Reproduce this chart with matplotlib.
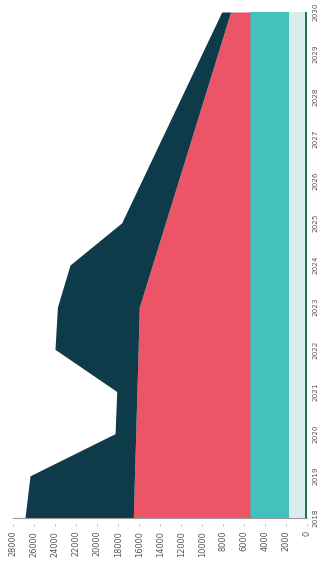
import numpy as np
import matplotlib
matplotlib.use("Agg")
import matplotlib.pyplot as plt
import matplotlib.transforms as mtransforms

years = np.arange(2018, 2031)
year_labels = [str(y) for y in years]

# stacked layers, innermost first
base_line = [180] * 13
pale = [1570] * 13
teal = [3710] * 13
pink = [11110, 11000, 10880, 10770, 10650, 10540, 9300, 8050, 6810, 5570, 4330, 3080, 1840]
navy = [10320, 9950, 1970, 1920, 7920, 7800, 7840, 4170, 3500, 2840, 2170, 1520, 850]

layers = [base_line, pale, teal, pink, navy]
colors = ["#1d6e5e", "#d9eeeb", "#41c2bd", "#ec5567", "#0d3b49"]

value_ticks = list(range(0, 28001, 2000))

fig = plt.figure(figsize=(3.25, 5.70), dpi=100)
ax = fig.add_axes([13.3 / 325, 1 - 518 / 570, (307.3 - 13.3) / 325, (518 - 12) / 570])

lower = np.zeros(len(years))
for vals, col in zip(layers, colors):
    upper = lower + np.asarray(vals, dtype=float)
    ax.fill_betweenx(years, lower, upper, color=col, linewidth=0)
    lower = upper

ax.set_xlim(28000, 0)
ax.set_ylim(2018, 2030)

for side in ["top", "right", "left"]:
    ax.spines[side].set_visible(False)
ax.spines["bottom"].set_color("#9a9a9a")
ax.spines["bottom"].set_linewidth(0.8)

# value axis: small detached tick dots, rotated labels
ax.set_xticks(value_ticks)
ax.set_xticklabels([str(v) for v in value_ticks], rotation=90, fontsize=5.9, color="#555555")
ax.tick_params(axis="x", length=0, pad=9.2)
tick_tr = mtransforms.blended_transform_factory(ax.transData, ax.transAxes)
ax.plot(value_ticks, [-0.014] * len(value_ticks), transform=tick_tr, linestyle="none",
        marker="|", markersize=2, markeredgewidth=0.6, color="#aaaaaa", clip_on=False)

# year axis on the right
ax.yaxis.tick_right()
ax.set_yticks(years)
ax.set_yticklabels(year_labels, rotation=90, va="center", fontsize=5.2, color="#555555")
ax.tick_params(axis="y", length=0, pad=3.6)

fig.savefig("out.png", dpi=100)
